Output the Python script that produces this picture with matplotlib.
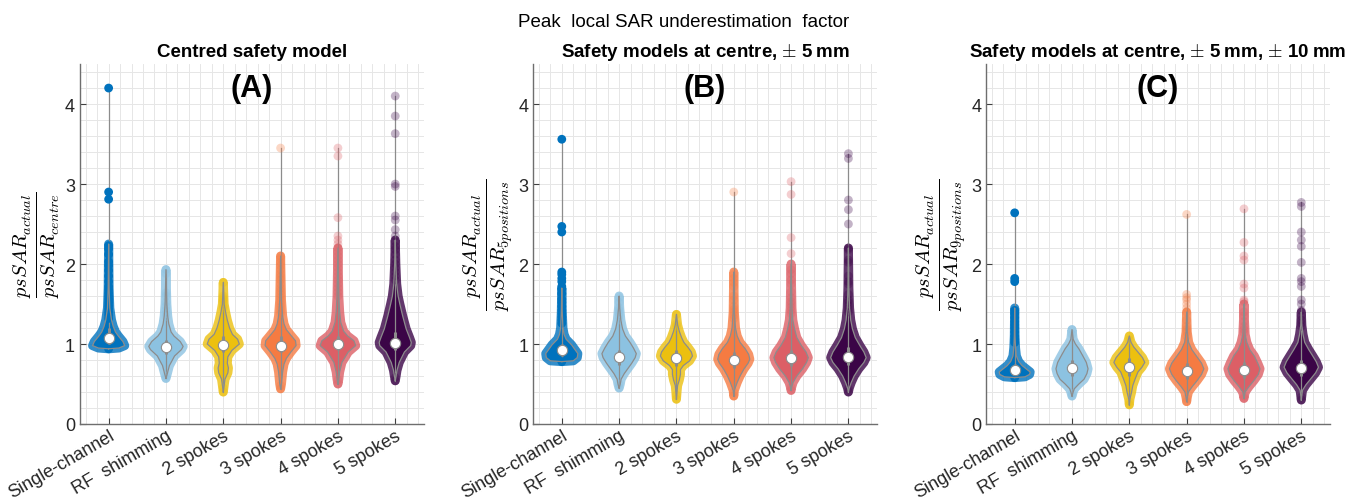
import numpy as np
import matplotlib
matplotlib.use("Agg")
import matplotlib.pyplot as plt
from matplotlib.ticker import MultipleLocator
from matplotlib.colors import to_rgba

plt.rcParams["font.family"] = ["Liberation Sans", "DejaVu Sans"]
plt.rcParams["mathtext.fontset"] = "cm"

# =========================
# Data
# =========================

CATEGORIES = ["Single-channel", "RF  shimming", "2 spokes", "3 spokes", "4 spokes", "5 spokes"]
COLORS = ["#0072BD", "#8CC2E1", "#ECC00F", "#F57B42", "#DC5F66", "#3B0547"]
POINT_ALPHA = [1.0, 0.35, 0.35, 0.3, 0.3, 0.3]

SUPTITLE = "Peak  local SAR underestimation  factor"
TITLES = ["Centred safety model",
          "Safety models at centre, $\\pm$ 5\u2009mm",
          "Safety models at centre, $\\pm$ 5\u2009mm, $\\pm$ 10\u2009mm"]
LETTERS = ["(A)", "(B)", "(C)"]
YLABELS = ["$\\frac{psSAR_{actual}}{psSAR_{centre}}$",
           "$\\frac{psSAR_{actual}}{psSAR_{5positions}}$",
           "$\\frac{psSAR_{actual}}{psSAR_{9positions}}$"]

# medians and inter-quartile box
MEDIAN_A = [1.08, 0.96, 0.99, 0.98, 1.00, 1.01]
MEDIAN_B = [0.92, 0.84, 0.83, 0.80, 0.82, 0.84]
MEDIAN_C = [0.68, 0.70, 0.71, 0.66, 0.68, 0.70]

Q1_A = [1.00, 0.88, 0.90, 0.90, 0.93, 0.93]
Q3_A = [1.20, 1.05, 1.10, 1.10, 1.10, 1.15]
Q1_B = [0.85, 0.74, 0.72, 0.70, 0.73, 0.74]
Q3_B = [1.00, 0.93, 0.92, 0.90, 0.93, 0.96]
Q1_C = [0.63, 0.60, 0.60, 0.56, 0.58, 0.60]
Q3_C = [0.75, 0.80, 0.82, 0.76, 0.78, 0.80]

# violin outline: (value, half width) pairs
PROFILE_A = [
    [(0.94, 0), (0.95, 0.18), (0.98, 0.28), (1.03, 0.25), (1.1, 0.17), (1.15, 0.12), (1.22, 0.08),
     (1.3, 0.05), (1.45, 0.02), (1.7, 0.008), (2.25, 0)],
    [(0.57, 0), (0.62, 0.02), (0.73, 0.06), (0.85, 0.15), (0.93, 0.27), (0.97, 0.3), (1.03, 0.25),
     (1.1, 0.14), (1.15, 0.09), (1.25, 0.05), (1.35, 0.03), (1.5, 0.015), (1.93, 0)],
    [(0.4, 0), (0.48, 0.015), (0.56, 0.03), (0.64, 0.08), (0.7, 0.09), (0.76, 0.07), (0.84, 0.08),
     (0.92, 0.15), (1.0, 0.28), (1.06, 0.25), (1.12, 0.16), (1.2, 0.11), (1.3, 0.07), (1.4, 0.04),
     (1.5, 0.015), (1.77, 0)],
    [(0.44, 0), (0.5, 0.015), (0.65, 0.035), (0.75, 0.06), (0.82, 0.1), (0.9, 0.18), (0.98, 0.27),
     (1.04, 0.26), (1.1, 0.19), (1.18, 0.1), (1.25, 0.06), (1.35, 0.035), (1.55, 0.015), (2.1, 0)],
    [(0.5, 0), (0.56, 0.015), (0.65, 0.03), (0.77, 0.07), (0.9, 0.18), (0.98, 0.31), (1.04, 0.28),
     (1.1, 0.17), (1.16, 0.1), (1.27, 0.05), (1.4, 0.03), (1.6, 0.015), (2.2, 0)],
    [(0.54, 0), (0.6, 0.015), (0.67, 0.03), (0.77, 0.07), (0.9, 0.16), (0.98, 0.27), (1.02, 0.28),
     (1.08, 0.25), (1.19, 0.19), (1.35, 0.13), (1.5, 0.08), (1.6, 0.05), (1.75, 0.025), (2.0, 0.01),
     (2.3, 0)],
]
PROFILE_B = [
    [(0.78, 0), (0.79, 0.2), (0.83, 0.27), (0.88, 0.28), (0.94, 0.22), (0.99, 0.17), (1.06, 0.075),
     (1.12, 0.04), (1.2, 0.02), (1.4, 0.008), (1.7, 0)],
    [(0.45, 0), (0.5, 0.02), (0.56, 0.035), (0.63, 0.09), (0.69, 0.15), (0.76, 0.22), (0.83, 0.28),
     (0.88, 0.3), (0.95, 0.25), (1.02, 0.19), (1.1, 0.11), (1.19, 0.06), (1.3, 0.03), (1.45, 0.01),
     (1.6, 0)],
    [(0.31, 0), (0.4, 0.01), (0.48, 0.02), (0.55, 0.05), (0.62, 0.07), (0.68, 0.07), (0.73, 0.12),
     (0.79, 0.23), (0.85, 0.28), (0.9, 0.26), (0.96, 0.2), (1.02, 0.13), (1.08, 0.09), (1.16, 0.05),
     (1.24, 0.02), (1.37, 0)],
    [(0.35, 0), (0.42, 0.01), (0.52, 0.06), (0.6, 0.11), (0.69, 0.18), (0.76, 0.25), (0.81, 0.28),
     (0.87, 0.26), (0.94, 0.2), (1.02, 0.11), (1.1, 0.06), (1.2, 0.03), (1.4, 0.01), (1.9, 0)],
    [(0.42, 0), (0.46, 0.01), (0.52, 0.035), (0.6, 0.1), (0.69, 0.2), (0.77, 0.27), (0.83, 0.3),
     (0.9, 0.26), (0.98, 0.18), (1.08, 0.1), (1.19, 0.06), (1.3, 0.03), (1.45, 0.015), (2.0, 0)],
    [(0.4, 0), (0.45, 0.015), (0.52, 0.05), (0.6, 0.1), (0.69, 0.18), (0.77, 0.27), (0.83, 0.31),
     (0.9, 0.27), (0.98, 0.2), (1.08, 0.12), (1.19, 0.07), (1.3, 0.04), (1.45, 0.02), (1.7, 0.008),
     (2.2, 0)],
]
PROFILE_C = [
    [(0.58, 0), (0.59, 0.18), (0.62, 0.26), (0.65, 0.27), (0.69, 0.2), (0.73, 0.13), (0.78, 0.07),
     (0.85, 0.03), (0.95, 0.015), (1.1, 0.006), (1.45, 0)],
    [(0.35, 0), (0.4, 0.02), (0.44, 0.04), (0.5, 0.12), (0.56, 0.21), (0.63, 0.26), (0.69, 0.28),
     (0.77, 0.25), (0.85, 0.19), (0.94, 0.12), (1.0, 0.06), (1.06, 0.02), (1.18, 0)],
    [(0.24, 0), (0.31, 0.01), (0.4, 0.04), (0.48, 0.06), (0.56, 0.1), (0.65, 0.15), (0.71, 0.22),
     (0.77, 0.27), (0.83, 0.23), (0.9, 0.15), (0.96, 0.08), (1.02, 0.03), (1.1, 0)],
    [(0.28, 0), (0.33, 0.01), (0.4, 0.03), (0.47, 0.1), (0.54, 0.18), (0.62, 0.26), (0.69, 0.3),
     (0.76, 0.26), (0.85, 0.17), (0.93, 0.09), (1.02, 0.035), (1.15, 0.01), (1.4, 0)],
    [(0.32, 0), (0.36, 0.01), (0.4, 0.02), (0.47, 0.09), (0.54, 0.17), (0.62, 0.25), (0.69, 0.28),
     (0.76, 0.24), (0.85, 0.18), (0.93, 0.1), (1.02, 0.05), (1.12, 0.02), (1.3, 0.008), (1.5, 0)],
    [(0.3, 0), (0.36, 0.01), (0.42, 0.02), (0.49, 0.08), (0.56, 0.16), (0.64, 0.25), (0.71, 0.3),
     (0.78, 0.26), (0.85, 0.2), (0.93, 0.13), (1.02, 0.06), (1.12, 0.03), (1.23, 0.01), (1.4, 0)],
]

# individual points in the tails (incl. max and min)
POINTS_A = [
    [4.2, 2.9, 2.81, 2.23, 2.19, 2.12, 2.03, 1.98, 1.92, 1.85, 1.78, 1.72, 1.68, 1.64, 1.6, 1.56,
     1.52, 1.48, 1.44, 1.4, 1.36, 1.32, 0.94],
    [1.93, 1.88, 1.64, 1.6, 1.52, 1.47, 1.42, 1.38, 1.34, 0.6, 0.57],
    [1.77, 1.6, 1.57, 1.55, 1.52, 1.48, 1.45, 0.45, 0.4],
    [3.45, 2.1, 2.07, 2.02, 1.98, 1.93, 1.88, 1.84, 1.8, 1.75, 1.7, 1.66, 1.62, 1.58, 1.54, 1.5,
     1.46, 1.42, 1.38, 0.48, 0.44],
    [3.45, 3.35, 2.58, 2.35, 2.3, 2.25, 2.2, 2.15, 2.1, 2.05, 2.0, 1.95, 1.9, 1.85, 1.8, 1.75,
     1.7, 1.65, 1.6, 0.55, 0.5],
    [4.1, 3.85, 3.63, 3.0, 2.97, 2.6, 2.55, 2.43, 2.35, 2.28, 2.22, 2.18, 2.12, 2.05, 2.0, 1.95,
     1.9, 1.85, 1.8, 0.58, 0.54],
]
POINTS_B = [
    [3.56, 2.47, 2.4, 1.9, 1.87, 1.82, 1.78, 1.72, 1.69, 1.63, 1.56, 1.52, 1.47, 1.42, 1.38, 1.34,
     1.3, 1.26, 0.78],
    [1.58, 1.52, 1.45, 1.42, 1.38, 1.35, 1.3, 0.5, 0.45],
    [1.37, 1.25, 1.22, 0.36, 0.31],
    [2.9, 1.87, 1.82, 1.77, 1.72, 1.6, 1.55, 1.47, 1.43, 1.4, 1.36, 1.32, 0.4, 0.35],
    [3.03, 2.87, 2.33, 2.13, 1.93, 1.88, 1.8, 1.75, 1.65, 1.58, 1.53, 1.5, 1.46, 1.42, 1.38,
     0.46, 0.42],
    [3.38, 3.32, 2.8, 2.68, 2.5, 2.2, 2.18, 2.05, 2.02, 1.85, 1.78, 1.75, 1.62, 1.55, 1.52, 1.48,
     1.44, 1.4, 0.44, 0.4],
]
POINTS_C = [
    [2.64, 1.82, 1.78, 1.42, 1.38, 1.33, 1.28, 1.24, 1.2, 1.15, 1.1, 1.06, 1.02, 0.58],
    [1.18, 1.12, 0.38, 0.35],
    [1.1, 1.05, 0.28, 0.24],
    [2.62, 1.62, 1.58, 1.55, 1.5, 1.45, 1.4, 1.3, 1.22, 1.18, 1.15, 1.1, 0.32, 0.28],
    [2.69, 2.27, 2.1, 2.05, 1.75, 1.7, 1.55, 1.53, 1.4, 1.35, 1.28, 1.22, 1.18, 1.14, 0.35, 0.32],
    [2.77, 2.72, 2.4, 2.3, 2.22, 2.02, 1.82, 1.78, 1.72, 1.55, 1.5, 1.42, 1.35, 1.3, 1.26, 1.22,
     0.34, 0.3],
]

GRAY = "#8c8c8c"


def draw_violin(ax, x, profile, points, median, q1, q3, color, p_alpha):
    prof = np.array(profile, dtype=float)
    ys, ws = prof[:, 0], prof[:, 1]
    xs_poly = np.concatenate([x + ws, (x - ws)[::-1]])
    ys_poly = np.concatenate([ys, ys[::-1]])

    # body covered by the data cloud (edge = marker radius)
    ax.fill(xs_poly, ys_poly, facecolor=to_rgba(color, 1.0),
            edgecolor=to_rgba(color, 0.8), linewidth=6.5, joinstyle="round", zorder=2)

    pts = np.array(points, dtype=float)
    ax.plot([x, x], [pts.min(), pts.max()], color=GRAY, lw=0.9, zorder=3)
    ax.scatter(np.full(len(pts), x), pts, s=40, color=color, alpha=p_alpha,
               edgecolors="none", zorder=4)

    # kernel density outline, box and median
    ax.plot(xs_poly, ys_poly, color=GRAY, lw=0.9, zorder=5)
    ax.plot([x, x], [q1, q3], color=GRAY, lw=2.2, zorder=5, solid_capstyle="butt")
    ax.scatter([x], [median], s=55, color="white", edgecolors=GRAY, linewidths=0.8, zorder=6)


fig = plt.figure(figsize=(13.67, 5.02), dpi=100)

lefts = [0.0585, 0.390, 0.7213]
panels = [
    (PROFILE_A, POINTS_A, MEDIAN_A, Q1_A, Q3_A),
    (PROFILE_B, POINTS_B, MEDIAN_B, Q1_B, Q3_B),
    (PROFILE_C, POINTS_C, MEDIAN_C, Q1_C, Q3_C),
]

for k, (profiles, points, medians, q1s, q3s) in enumerate(panels):
    ax = fig.add_axes([lefts[k], 0.1534, 0.2516, 0.717])
    positions = np.arange(1, len(CATEGORIES) + 1)

    for i, pos in enumerate(positions):
        draw_violin(ax, pos, profiles[i], points[i], medians[i], q1s[i], q3s[i],
                    COLORS[i], POINT_ALPHA[i])

    ax.set_xlim(0.5, 6.5)
    ax.set_ylim(0, 4.5)
    ax.set_xticks(positions)
    ax.set_xticklabels(CATEGORIES, rotation=30, ha="right", rotation_mode="anchor",
                       fontsize=13)
    ax.set_yticks([0, 1, 2, 3, 4])
    ax.tick_params(axis="y", labelsize=13)
    ax.tick_params(axis="x", pad=2)
    ax.xaxis.set_minor_locator(MultipleLocator(0.2))
    ax.yaxis.set_minor_locator(MultipleLocator(0.2))
    ax.tick_params(which="both", direction="in", colors="#404040", labelcolor="#262626")
    ax.tick_params(which="major", length=4)
    ax.tick_params(which="minor", length=0)
    ax.grid(True, which="both", color="#e6e6e6", lw=0.7, zorder=0)
    ax.set_axisbelow(True)
    for side in ["top", "right"]:
        ax.spines[side].set_visible(False)
    for side in ["left", "bottom"]:
        ax.spines[side].set_color("#6e6e6e")
        ax.spines[side].set_linewidth(1.0)

    ax.set_title(TITLES[k], fontsize=13.5, fontweight="bold", pad=6)
    ax.text(3.5, 4.2, LETTERS[k], fontsize=22, fontweight="bold", ha="center", va="center")
    ax.set_ylabel(YLABELS[k], fontsize=21, labelpad=2)

fig.suptitle(SUPTITLE, fontsize=13.5, y=0.972)

fig.savefig("out.png", dpi=100)
